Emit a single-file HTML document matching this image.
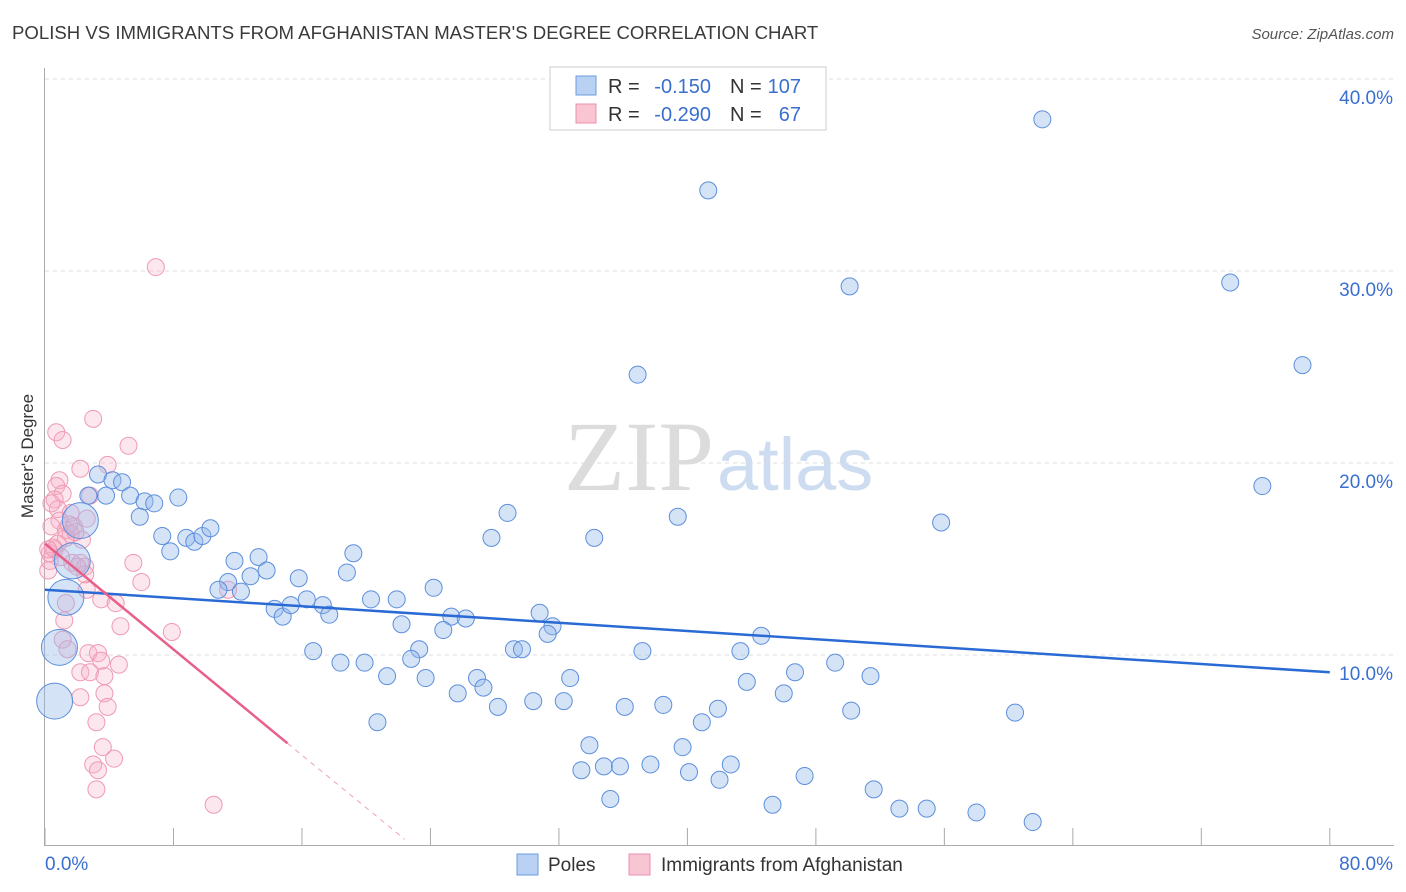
<!DOCTYPE html>
<html><head><meta charset="utf-8">
<style>
body{margin:0;background:#fff;font-family:"Liberation Sans",sans-serif;}
</style></head>
<body>
<svg id="chart" width="1406" height="892" xmlns="http://www.w3.org/2000/svg" style="display:block">
<text x="12" y="39" font-size="18.6" fill="#3a3a3a">POLISH VS IMMIGRANTS FROM AFGHANISTAN MASTER'S DEGREE CORRELATION CHART</text>
<text x="1394" y="39" font-size="15" fill="#555" text-anchor="end" font-style="italic">Source: ZipAtlas.com</text>
<text x="714" y="490" font-size="100" fill="#dcdcdc" text-anchor="end" font-family="Liberation Serif,serif">ZIP</text>
<text x="717" y="490" font-size="74" fill="#cddcf0">atlas</text>
<g id="grid"></g>
<g id="axes"></g>
<g id="pts"></g>
<g id="trend"></g>
<text x="33" y="456" font-size="17" fill="#333" text-anchor="middle" transform="rotate(-90 33 456)">Master's Degree</text>
<g>
<rect x="550" y="67" width="276" height="63" fill="#fff" stroke="#ccc"/>
<rect x="576" y="76" width="20" height="19" fill="#b9d2f3" stroke="#6d9be0"/>
<rect x="576" y="104" width="20" height="19" fill="#f9c5d3" stroke="#ec8fac"/>
<text x="608" y="93" font-size="20" fill="#333">R =</text>
<text x="711" y="93" font-size="20" fill="#3a6fd0" text-anchor="end">-0.150</text>
<text x="730" y="93" font-size="20" fill="#333">N =</text>
<text x="801" y="93" font-size="20" fill="#3a6fd0" text-anchor="end">107</text>
<text x="608" y="121" font-size="20" fill="#333">R =</text>
<text x="711" y="121" font-size="20" fill="#3a6fd0" text-anchor="end">-0.290</text>
<text x="730" y="121" font-size="20" fill="#333">N =</text>
<text x="801" y="121" font-size="20" fill="#3a6fd0" text-anchor="end">67</text>
</g>
<g>
<rect x="517" y="854" width="21" height="21" fill="#b9d2f3" stroke="#6d9be0"/>
<text x="548" y="871" font-size="19" fill="#333">Poles</text>
<rect x="629" y="854" width="21" height="21" fill="#f9c5d3" stroke="#ec8fac"/>
<text x="661" y="871" font-size="19" fill="#333">Immigrants from Afghanistan</text>
</g>
</svg>
<script>
const xTicks=[0,8,16,24,32,40,48,56,64,72,80];
const yTicks=[10,20,30,40];
const yTickLabels=["10.0%","20.0%","30.0%","40.0%"];
const xTickLabels=["0.0%","80.0%"];
const polesX=[62.1,41.3,50.1,73.8,78.3,36.9,75.8,55.8,39.4,28.8,34.2,27.8,3.3,4.2,4.8,2.7,3.8,5.3,6.2,6.8,8.3,5.9,2.2,7.3,8.8,9.3,9.8,10.3,7.8,1.7,11.8,13.3,19.2,12.8,13.8,15.8,18.8,11.4,10.8,12.2,24.2,1.3,14.3,14.8,15.3,16.3,17.3,17.7,20.3,21.9,25.3,26.2,30.8,22.2,24.8,31.6,31.3,44.6,0.9,16.7,23.3,29.2,29.7,37.2,43.3,18.4,19.9,22.8,49.2,46.7,21.3,23.7,26.9,32.7,51.4,43.7,27.3,25.7,46.0,30.4,32.3,28.2,36.1,38.5,50.2,41.9,60.4,0.6,20.7,40.9,33.9,39.7,34.8,35.8,37.7,42.7,33.4,40.1,42.0,47.3,51.6,35.2,45.3,53.2,54.9,58.0,61.5];
const polesY=[37.9,34.2,29.2,29.4,25.1,24.6,18.8,16.9,17.2,17.4,16.1,16.1,19.4,19.1,19.0,18.3,18.3,18.3,18.0,17.9,18.2,17.2,17.0,16.2,16.1,15.9,16.2,16.6,15.4,14.9,14.9,15.1,15.3,14.1,14.4,14.0,14.3,13.8,13.4,13.3,13.5,13.0,12.4,12.0,12.6,12.9,12.6,12.1,12.9,12.9,12.0,11.9,12.2,11.6,11.3,11.5,11.1,11.0,10.4,10.2,10.3,10.3,10.3,10.2,10.2,9.6,9.6,9.8,9.6,9.1,8.9,8.8,8.8,8.8,8.9,8.6,8.3,8.0,8.0,7.6,7.6,7.3,7.3,7.4,7.1,7.2,7.0,7.6,6.5,6.5,5.3,5.2,4.2,4.2,4.3,4.3,4.0,3.9,3.5,3.7,3.0,2.5,2.2,2.0,2.0,1.8,1.3];
const polesBig=[22,29,41,58,87];
const afgX=[6.9,3.0,0.7,1.1,5.2,2.2,3.9,0.9,0.7,1.1,0.6,0.8,1.6,0.9,0.4,1.3,1.8,1.6,0.8,0.6,1.3,2.3,2.8,2.6,1.7,2.2,2.5,0.2,0.3,5.5,2.5,2.6,6.0,1.3,3.5,4.4,1.2,4.7,7.9,1.1,1.4,2.7,3.3,3.5,4.6,2.2,2.8,3.7,3.7,2.2,3.9,3.2,3.6,4.3,3.0,3.3,3.2,10.5,11.4,0.3,0.5,1.9,2.0,1.0,0.4,0.2,1.5];
const afgY=[30.2,22.3,21.6,21.2,20.9,19.7,19.9,19.1,18.8,18.4,18.1,17.6,17.4,17.0,16.7,16.5,16.7,16.3,15.8,15.5,16.1,16.0,18.3,17.1,14.8,14.8,14.6,14.4,14.9,14.8,14.2,13.4,13.8,12.7,12.9,12.7,11.8,11.5,11.2,10.8,10.3,10.1,10.1,9.7,9.5,9.1,9.1,8.9,8.0,7.8,7.3,6.5,5.2,4.6,4.3,4.0,3.0,2.2,13.4,15.3,15.6,16.4,14.6,15.1,17.9,15.5,16.8];
const polesTrend=[[0,13.4],[80,9.1]];
const afgTrendSolid=[[0,15.8],[15.1,5.4]];
const afgTrendDash=[[15.1,5.4],[22.4,0.4]];
const X=v=>45+v*16.06, Y=v=>847-v*19.2;
const NS="http://www.w3.org/2000/svg";
function mk(t,a,p){const e=document.createElementNS(NS,t);for(const k in a)e.setAttribute(k,a[k]);p.appendChild(e);return e;}
const grid=document.getElementById('grid'),axes=document.getElementById('axes');
yTicks.forEach((t,i)=>{const l=mk('line',{x1:45,x2:1394,y1:Y(t),y2:Y(t),stroke:'#ddd','stroke-dasharray':'4,4'},grid);


const tx=mk('text',{x:1393,y:Y(t)+25,'font-size':19,fill:'#3a6fd0','text-anchor':'end'},axes);tx.textContent=yTickLabels[i];

});
const ya=mk('line',{x1:44.5,x2:44.5,y1:68,y2:846,stroke:'#aaa'},axes);


const xa=mk('line',{x1:45,x2:1394,y1:845.5,y2:845.5,stroke:'#aaa'},axes);


xTicks.forEach(t=>{const l=mk('line',{x1:X(t),x2:X(t),y1:828,y2:846,stroke:'#aaa'},axes);

});
[[0,'start'],[80,'end']].forEach((p,i)=>{const tx=mk('text',{x:i?1393:45,y:870,'font-size':19,fill:'#3a6fd0','text-anchor':p[1]},axes);tx.textContent=xTickLabels[i];

});
const pts=document.getElementById('pts');
afgX.forEach((x,i)=>{const c=mk('circle',{cx:X(x),cy:Y(afgY[i]),r:8.5,fill:'rgba(247,175,198,0.3)',stroke:'#ef9ab4','stroke-width':1},pts);

});
polesX.forEach((x,i)=>{const big=polesBig.includes(i);const c=mk('circle',{cx:X(x),cy:Y(polesY[i]),r:big?18:8.5,fill:'rgba(150,185,235,0.4)',stroke:'#5d8fdc','stroke-width':1},pts);

});
const tr=document.getElementById('trend');
const l1=mk('line',{x1:X(polesTrend[0][0]),y1:Y(polesTrend[0][1]),x2:X(polesTrend[1][0]),y2:Y(polesTrend[1][1]),stroke:'#2a6ad4','stroke-width':2.5},tr);


const l2=mk('line',{x1:X(afgTrendSolid[0][0]),y1:Y(afgTrendSolid[0][1]),x2:X(afgTrendSolid[1][0]),y2:Y(afgTrendSolid[1][1]),stroke:'#e8608a','stroke-width':2.5},tr);


const l3=mk('line',{x1:X(afgTrendDash[0][0]),y1:Y(afgTrendDash[0][1]),x2:X(afgTrendDash[1][0]),y2:Y(afgTrendDash[1][1]),stroke:'#f0a0b8','stroke-width':1,'stroke-dasharray':'5,5'},tr);


</script>
</body></html>
